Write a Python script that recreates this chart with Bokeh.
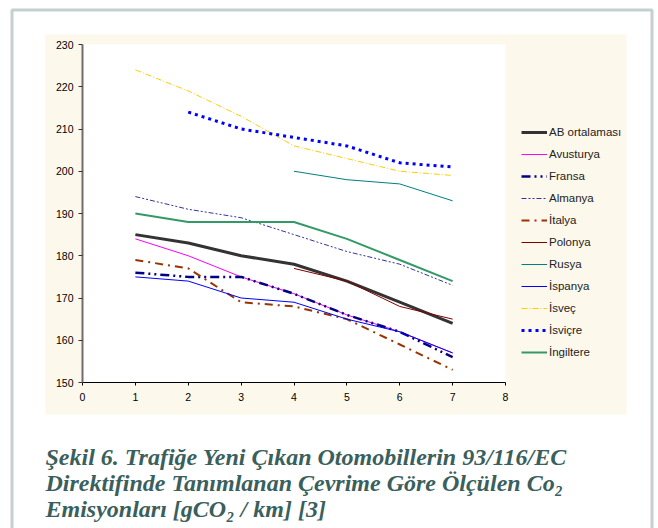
from bokeh.plotting import figure
from bokeh.models import (BoxAnnotation, Label, Legend, LegendItem, Range1d,
                          FixedTicker)
from bokeh.embed import file_html
from bokeh.resources import INLINE

# ---- data ----
years = [1, 2, 3, 4, 5, 6, 7]
ab_ortalamasi = [185, 183, 180, 178, 174, 169, 164]
avusturya = [184, 180, 175, 171, 166, 162, 157]
fransa = [176, 175, 175, 171, 166, 162, 156]
almanya = [194, 191, 189, 185, 181, 178, 173]
italya = [179, 177, 169, 168, 165, 159, 153]
polonya_x = [4, 5, 6, 7]
polonya = [177, 174, 168, 165]
rusya_x = [4, 5, 6, 7]
rusya = [200, 198, 197, 193]
ispanya = [175, 174, 170, 169, 165, 162, 157]
isvec = [224, 219, 213, 206, 203, 200, 199]
isvicre_x = [2, 3, 4, 5, 6, 7]
isvicre = [214, 210, 208, 206, 202, 201]
ingiltere = [190, 188, 188, 188, 184, 179, 174]

x_ticks = [0, 1, 2, 3, 4, 5, 6, 7, 8]
y_ticks = [150, 160, 170, 180, 190, 200, 210, 220, 230]
x_lo, x_hi = 0, 8
y_lo, y_hi = 150, 230

caption = ["Şekil 6. Trafiğe Yeni Çıkan Otomobillerin 93/116/EC",
           "Direktifinde Tanımlanan Çevrime Göre Ölçülen Co₂",
           "Emisyonları [gCO₂ / km]  [3]"]

# ---- layout (pixels) ----
W, H = 658, 528
PL, PR, PT, PB = 82, 505, 44, 382          # plot-area edges
xpp = (PR - PL) / (x_hi - x_lo)
ypp = (PB - PT) / (y_hi - y_lo)
xr = Range1d(x_lo - PL / xpp, x_hi + (W - PR) / xpp)
yr = Range1d(y_lo - (H - PB) / ypp, y_hi + PT / ypp)

p = figure(width=W, height=H, output_backend="svg", toolbar_location=None,
           x_range=xr, y_range=yr, title=None,
           min_border_left=0, min_border_right=0,
           min_border_top=0, min_border_bottom=0)
p.border_fill_color = "white"
p.background_fill_color = "white"
p.outline_line_color = None
p.grid.visible = False


def canvas_box(l, r, t, b, **kw):
    return BoxAnnotation(left=l, right=r, top=t, bottom=b,
                         left_units="canvas", right_units="canvas",
                         top_units="canvas", bottom_units="canvas", **kw)


p.add_layout(canvas_box(45, 626, 34, 414, fill_color="#fdf8ec", fill_alpha=1,
                        line_color=None, level="image"))
p.add_layout(canvas_box(PL, PR, PT, PB, fill_color="white", fill_alpha=1,
                        line_color=None, level="image"))
p.add_layout(canvas_box(11.5, 651.5, 9.5, 560, fill_color=None,
                        line_color="#3d6360", line_width=3, level="overlay"))

# axes
p.xaxis.ticker = FixedTicker(ticks=x_ticks)
p.yaxis.ticker = FixedTicker(ticks=y_ticks)
p.xaxis.bounds = (x_lo, x_hi)
p.yaxis.bounds = (y_lo, y_hi)
p.xaxis.fixed_location = y_lo
p.yaxis.fixed_location = x_lo
for ax in (p.xaxis[0], p.yaxis[0]):
    ax.major_label_text_font = "Liberation Sans"
    ax.major_label_text_font_size = "10.5px"
    ax.major_label_text_color = "#000000"
    ax.major_tick_in = 0
    ax.minor_tick_line_color = None
p.xaxis.major_tick_out = 3
p.xaxis.major_label_standoff = 7
p.yaxis.major_tick_out = 4
p.yaxis.major_label_standoff = 5
p.xaxis.axis_line_color = "#000000"
p.xaxis.major_tick_line_color = "#000000"
p.yaxis.axis_line_color = "#6e6e6e"
p.yaxis.axis_line_width = 2
p.yaxis.major_tick_line_color = "#333333"

items = []


def add(label, xs, ys, color, width, dash="solid"):
    r = p.line(xs, ys, line_color=color, line_width=width, line_dash=dash)
    items.append(LegendItem(label=label, renderers=[r]))


add("AB ortalaması", years, ab_ortalamasi, "#333333", 3)
add("Avusturya", years, avusturya, "#ff00ff", 1)
add("Fransa", years, fransa, "#000080", 2.5, "9 4 2 4 2 4")
add("Almanya", years, almanya, "#333399", 1, "5 2 2 2 2 2")
add("İtalya", years, italya, "#993300", 2, "8 5 2 5")
add("Polonya", polonya_x, polonya, "#800000", 1)
add("Rusya", rusya_x, rusya, "#008080", 1)
add("İspanya", years, ispanya, "#0000ff", 1)
add("İsveç", years, isvec, "#ffcc00", 1, "6 2 1 2")
add("İsviçre", isvicre_x, isvicre, "#0000ff", 3, "3 4")
add("İngiltere", years, ingiltere, "#339966", 2)

legend = Legend(items=items, location=(521, H - 363),
                glyph_width=26, glyph_height=22, label_height=22,
                label_standoff=2, spacing=0, padding=0, margin=0,
                label_text_font="Liberation Sans", label_text_font_size="11.5px",
                label_text_color="#222222",
                background_fill_alpha=0, border_line_alpha=0)
p.add_layout(legend)

for i, line in enumerate(caption):
    p.add_layout(Label(x=45, y=H - (456 + 26 * i), x_units="screen", y_units="screen",
                       text=line, text_font="Liberation Serif",
                       text_font_style="bold italic", text_font_size="24px",
                       text_color="#3a5f5c", text_baseline="alphabetic"))

open("out.html", "w").write(file_html(p, INLINE))
